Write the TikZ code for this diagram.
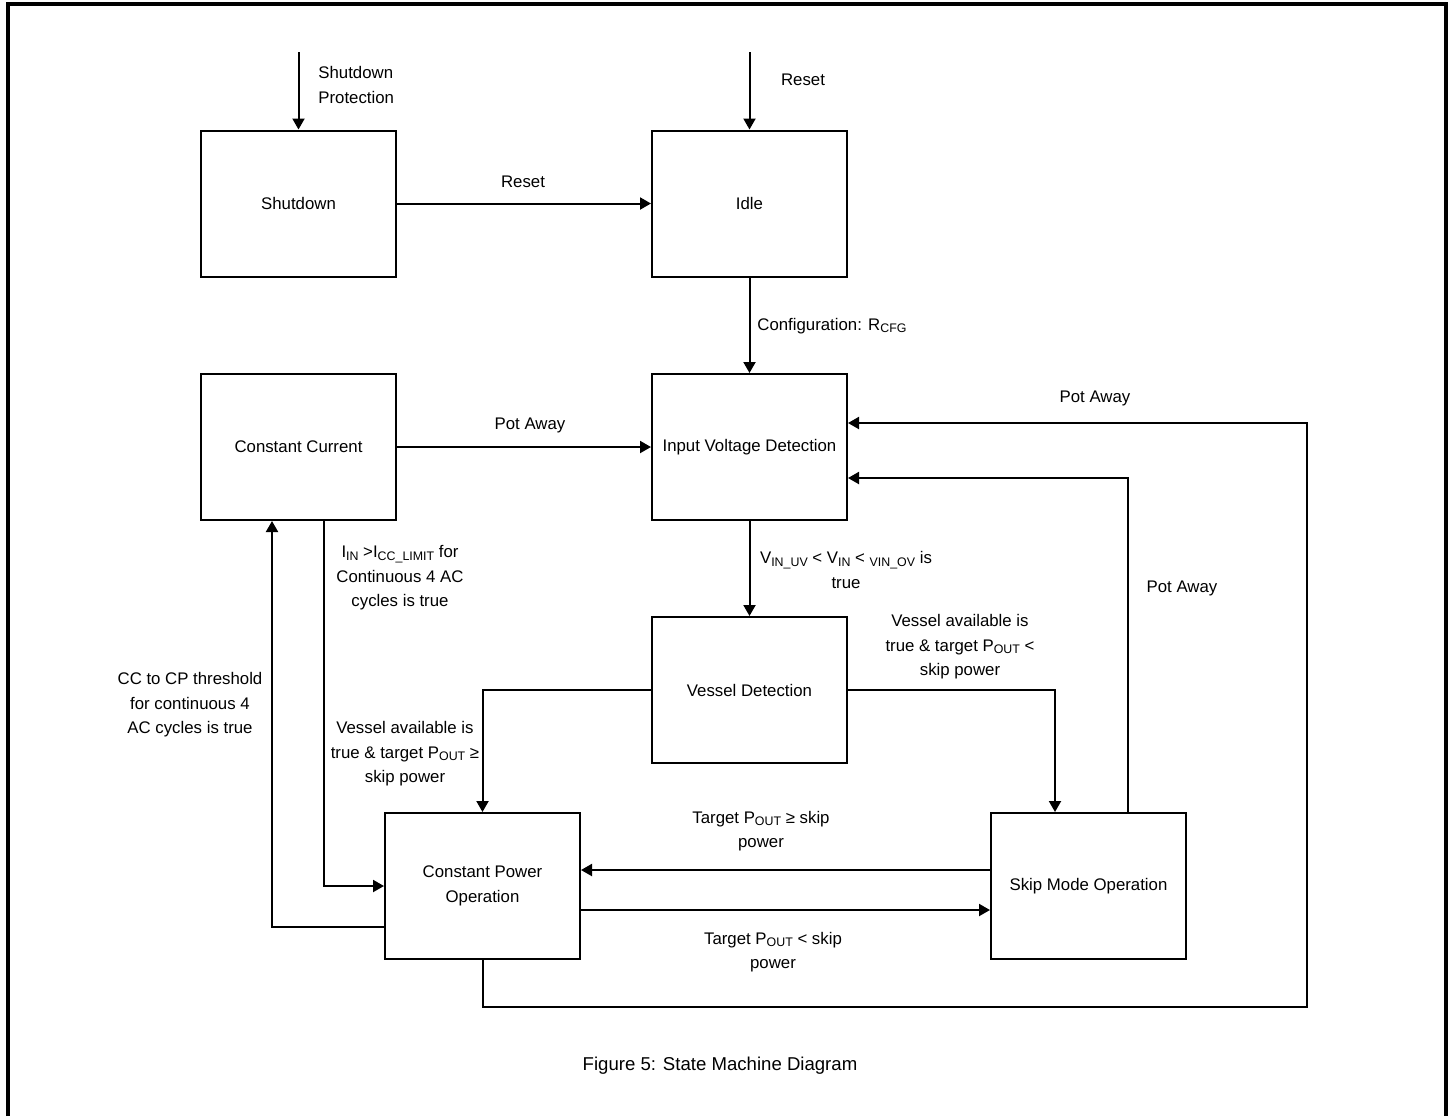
\documentclass[tikz,border=0pt]{standalone}
\usepackage{fontspec}
\setmainfont{Liberation Sans}
\usetikzlibrary{arrows.meta}
\newcommand\lowsub[1]{\raisebox{-0.25ex}{\fontsize{6.2}{7}\selectfont #1}}
\begin{document}
\begin{tikzpicture}[x=0.5pt,y=-0.5pt,
  every node/.style={font=\fontsize{8.4}{12.2}\selectfont},
  statebox/.style={draw,line width=1pt,minimum width=97.5pt,minimum height=73pt,align=center,inner sep=0pt},
  conn/.style={line width=1pt,-{Triangle[length=5.5pt,width=6pt]}},
  lbl/.style={align=center,inner sep=0pt},
  frame/.style={line width=1.6pt}]
\useasboundingbox (0,0) rectangle (1452,1116);
\draw[frame] (8,1116) -- (8,4) -- (1446,4) -- (1446,1116);

% states
\node[statebox] (sd)   at (298.5,203.5) {Shutdown};
\node[statebox] (idle) at (749.5,203.5) {Idle};
\node[statebox] (cc)   at (298.5,447)   {Constant Current};
\node[statebox] (ivd)  at (749.5,447)   {Input Voltage Detection};
\node[statebox] (vd)   at (749.5,690)   {Vessel Detection};
\node[statebox] (cpo)  at (482.5,886)   {Constant Power\\Operation};
\node[statebox] (skip) at (1088.5,886)  {Skip Mode Operation};

% free ends
\coordinate (sdin) at (298.5,52);
\coordinate (idin) at (749.5,52);
\coordinate (br)   at (1307,1007);

% connectors
\draw[conn] (sdin) -- (sd.north);
\draw[conn] (idin) -- (idle.north);
\draw[conn] (sd.east) -- (idle.west);
\draw[conn] (idle.south) -- (ivd.north);
\draw[conn] (cc.east) -- (ivd.west);
\draw[conn] (ivd.south) -- (vd.north);
\draw[conn] (vd.west) -| (cpo.north);
\draw[conn] (vd.east) -| ([xshift=-16.75pt]skip.north);
\draw[conn] ([yshift=8pt]skip.west) -- ([yshift=8pt]cpo.east);
\draw[conn] ([yshift=-12pt]cpo.east) -- ([yshift=-12pt]skip.west);
\draw[conn] ([xshift=12.75pt]cc.south) |- (cpo.west);
\draw[conn] ([yshift=-20.5pt]cpo.west) -| ([xshift=-13.25pt]cc.south);
\draw[conn] ([xshift=19.75pt]skip.north) |- ([yshift=-15.5pt]ivd.east);
\draw[conn] (cpo.south) |- (br) |- ([yshift=12pt]ivd.east);

% labels
\node[lbl,align=left,anchor=west] (l1) at (318,85) {Shutdown\\Protection};
\node[lbl] (l2) at (803,80) {Reset};
\node[lbl] (l3) at (523,182) {Reset};
\node[lbl,anchor=west] (l4) at (757,326) {Configuration: R\lowsub{CFG}};
\node[lbl] (l5) at (530,425) {Pot Away};
\node[lbl] (l6) at (1095,398) {Pot Away};
\node[lbl] (l7) at (1182,588) {Pot Away};
\node[lbl] (l8) at (846,570) {V\lowsub{IN\_UV} {\textless} V\lowsub{IN} {\textless} \lowsub{VIN\_OV} is\\true};
\node[lbl] (l9) at (400,578) {I\lowsub{IN} {\textgreater}I\lowsub{CC\_LIMIT} for\\Continuous 4 AC\\cycles is true};
\node[lbl] (l10) at (190,705) {CC to CP threshold\\for continuous 4\\AC cycles is true};
\node[lbl] (l11) at (405,754) {Vessel available is\\true \& target P\lowsub{OUT} ≥\\skip power};
\node[lbl] (l12) at (960,647) {Vessel available is\\true \& target P\lowsub{OUT} {\textless}\\skip power};
\node[lbl] (l13) at (761,831) {Target P\lowsub{OUT} ≥ skip\\power};
\node[lbl] (l14) at (773,952) {Target P\lowsub{OUT} {\textless} skip\\power};
\node[lbl,font=\fontsize{9.3}{11}\selectfont] (cap) at (720,1066) {Figure 5: State Machine Diagram};
\end{tikzpicture}
\end{document}
